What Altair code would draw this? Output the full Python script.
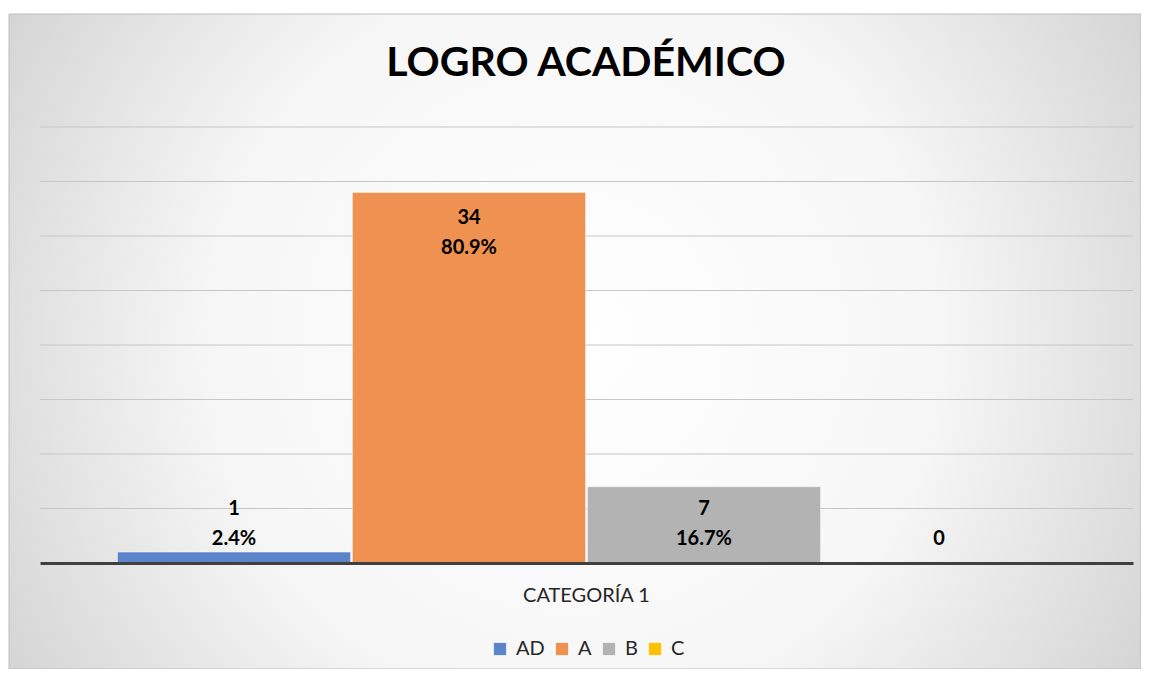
import altair as alt
import pandas as pd

# ---- data ----
category = "CATEGORÍA 1"
series = ["AD", "A", "B", "C"]
counts = [1, 34, 7, 0]
label_count = ["1", "34", "7", ""]
label_pct = ["2.4%", "80.9%", "16.7%", "0"]
colors = ["#5B84CB", "#EF9150", "#B3B3B3", "#FFC000"]
grid_values = [5, 10, 15, 20, 25, 30, 35, 40]
title_text = "LOGRO ACADÉMICO"

df = pd.DataFrame({
    "cat": [category] * len(series),
    "series": series,
    "value": counts,
    "t1": label_count,
    "t2": label_pct,
})
grid_df = pd.DataFrame({"v": grid_values})
one = pd.DataFrame({"k": [0]})

W, H = 1132, 655
FONT = "Lato"

yscale = alt.Scale(domain=[0, 40], range=[549, 113], nice=False, zero=True)
xscale = alt.Scale(range=[31, 1124], paddingOuter=0.0826, paddingInner=0)
xoff_scale = alt.Scale(paddingInner=0.008, paddingOuter=0)

bg = alt.Chart(one).mark_rect(
    fill={
        "gradient": "radial",
        "x1": 0.5, "y1": 0.5, "r1": 0,
        "x2": 0.5, "y2": 0.5, "r2": 0.72,
        "stops": [
            {"offset": 0, "color": "#ffffff"},
            {"offset": 0.45, "color": "#f6f6f6"},
            {"offset": 1, "color": "#c2c2c2"},
        ],
    },
    stroke="#bdbdbd",
    strokeWidth=1,
).encode(x=alt.value(0), x2=alt.value(W), y=alt.value(0), y2=alt.value(H))

grid = alt.Chart(grid_df).mark_rule(color="#c6c6c6", strokeWidth=1).encode(
    y=alt.Y("v:Q", scale=yscale, axis=None),
    x=alt.value(31),
    x2=alt.value(1124),
)

x_axis = alt.Axis(
    title=None,
    labelAngle=0,
    ticks=False,
    grid=False,
    domainColor="#404040",
    domainWidth=3,
    labelFont=FONT,
    labelFontSize=20,
    labelColor="#262626",
    labelPadding=22,
    offset=-106,
    zindex=1,
)
x_enc = alt.X("cat:N", scale=xscale, axis=x_axis)
xo_enc = alt.XOffset("series:N", sort=series, scale=xoff_scale)

bars = alt.Chart(df).mark_bar(
    stroke="#ffffff", strokeOpacity=0.45, strokeWidth=1
).encode(
    x=x_enc,
    xOffset=xo_enc,
    y=alt.Y("value:Q", scale=yscale, axis=None),
    color=alt.Color(
        "series:N",
        sort=series,
        scale=alt.Scale(domain=series, range=colors),
        legend=alt.Legend(
            title=None,
            orient="none",
            legendX=481,
            legendY=625,
            direction="horizontal",
            gridAlign="none",
            symbolType="square",
            symbolSize=150,
            symbolStrokeWidth=0,
            labelFont=FONT,
            labelFontSize=20,
            labelColor="#262626",
            labelOffset=6,
            columnPadding=7,
            padding=0,
        ),
    ),
)

labels = alt.Chart(df).transform_calculate(
    ly2="max(datum.value - 5.14, 2.16)",
    ly1="max(datum.value - 5.14, 2.16) + 2.75",
)
lab1 = labels.mark_text(
    font=FONT, fontWeight="bold", fontSize=20, color="#000000", baseline="middle"
).encode(
    x=x_enc,
    xOffset=xo_enc,
    y=alt.Y("ly1:Q", scale=yscale, axis=None),
    text="t1:N",
)
lab2 = labels.mark_text(
    font=FONT, fontWeight="bold", fontSize=20, color="#000000", baseline="middle"
).encode(
    x=x_enc,
    xOffset=xo_enc,
    y=alt.Y("ly2:Q", scale=yscale, axis=None),
    text="t2:N",
)

title = alt.Chart(one).mark_text(
    font=FONT, fontWeight="bold", fontSize=41, color="#000000", baseline="middle", align="center"
).encode(x=alt.value(577), y=alt.value(50), text=alt.value(title_text))

chart = alt.layer(bg, grid, bars, lab1, lab2, title).properties(
    width=W,
    height=H,
    autosize=alt.AutoSizeParams(type="none"),
    padding={"left": 1, "top": 6, "right": 0, "bottom": 0},
    background="#ffffff",
).configure_view(stroke=None)

chart.save("out.html", embed_options={"renderer": "svg", "actions": False})
